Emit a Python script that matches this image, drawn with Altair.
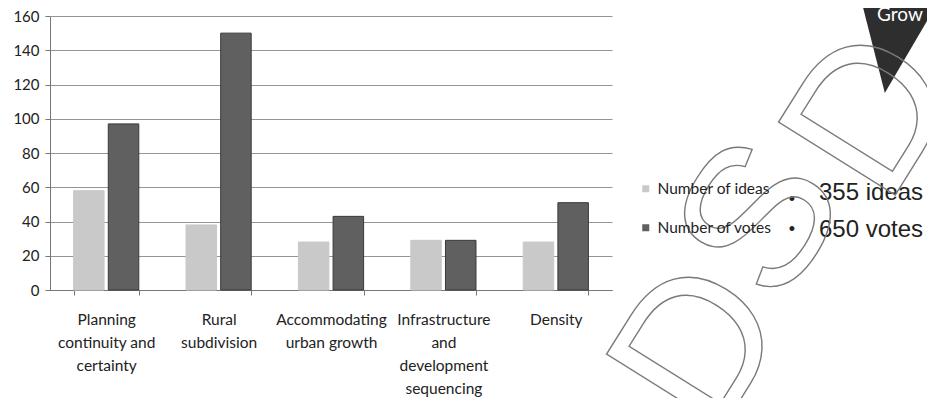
import altair as alt
import pandas as pd

categories = [
    "Planning\ncontinuity and\ncertainty",
    "Rural\nsubdivision",
    "Accommodating\nurban growth",
    "Infrastructure\nand\ndevelopment\nsequencing",
    "Density",
]
series_names = ["Number of ideas", "Number of votes"]
ideas = [58, 38, 28, 29, 28]
votes = [97, 150, 43, 29, 51]
y_ticks = [0, 20, 40, 60, 80, 100, 120, 140, 160]
notes = ["355 ideas", "650 votes"]
badge = ["Grow"]
watermark = ["D", "S", "D"]

rows = []
for c, i, v in zip(categories, ideas, votes):
    rows.append({"category": c, "series": series_names[0], "value": i})
    rows.append({"category": c, "series": series_names[1], "value": v})
df = pd.DataFrame(rows)

FONT = "Lato"

x = alt.X(
    "category:N",
    sort=categories,
    scale=alt.Scale(paddingInner=0.42, paddingOuter=0.21),
    axis=alt.Axis(
        title=None,
        labelAngle=0,
        labelExpr="split(datum.label, '\\n')",
        labelFont=FONT,
        labelFontSize=15.5,
        labelLineHeight=23,
        labelColor="#222",
        labelPadding=24,
        labelBaseline="middle",
        tickBand="extent",
        tickSize=5,
        tickColor="#777",
        domainColor="#777",
        grid=False,
    ),
)
y = alt.Y(
    "value:Q",
    scale=alt.Scale(domain=[0, 160], nice=False),
    axis=alt.Axis(
        title=None,
        values=y_ticks,
        labelFont=FONT,
        labelFontSize=15,
        labelColor="#222",
        labelPadding=6,
        tickSize=5,
        tickColor="#777",
        domainColor="#777",
        gridColor="#959595",
        gridWidth=1,
    ),
)

bars = alt.Chart(df).mark_bar(strokeWidth=1).encode(
    x=x,
    xOffset=alt.XOffset("series:N", sort=series_names, scale=alt.Scale(paddingInner=0.12)),
    y=y,
    color=alt.Color(
        "series:N",
        sort=series_names,
        scale=alt.Scale(domain=series_names, range=["#c9c9c9", "#606060"]),
        legend=alt.Legend(
            title=None,
            orient="none",
            legendX=588,
            legendY=165,
            symbolType="square",
            symbolSize=49,
            symbolStrokeWidth=0,
            rowPadding=22,
            labelFont=FONT,
            labelFontSize=15.5,
            labelColor="#222",
            labelOffset=4,
        ),
    ),
    stroke=alt.Stroke(
        "series:N",
        sort=series_names,
        scale=alt.Scale(domain=series_names, range=["#c9c9c9", "#3a3a3a"]),
        legend=None,
    ),
)

layers = [bars]
for txt, yy in zip(notes, [177, 214]):
    layers.append(
        alt.Chart(pd.DataFrame({"note": [txt]})).mark_text(
            font="Liberation Sans", fontSize=24, align="left", baseline="middle", color="#222"
        ).encode(text="note:N", x=alt.value(769), y=alt.value(yy))
    )
for yy in [184, 214]:
    layers.append(
        alt.Chart(pd.DataFrame({"note": ["•"]})).mark_text(
            font="Liberation Sans", fontSize=18, align="center", baseline="middle", color="#222"
        ).encode(text="note:N", x=alt.value(742), y=alt.value(yy))
    )

tri = alt.Chart(pd.DataFrame({"b": badge})).mark_point(
    shape="M -0.84 -1 L 0.84 -1 L -0.33 1 Z",
    filled=True,
    color="#2e2e2e",
    opacity=1,
    size=9604,
).encode(x=alt.value(851), y=alt.value(28))
tri_text = alt.Chart(pd.DataFrame({"b": badge})).mark_text(
    font=FONT, fontSize=19, color="white", align="left", baseline="middle"
).encode(text="b:N", x=alt.value(827), y=alt.value(-1))
layers += [tri, tri_text]

for letter, (xx, yy) in zip(watermark, [(652, 332), (714, 205), (824, 100)]):
    layers.append(
        alt.Chart(pd.DataFrame({"w": [letter]})).mark_text(
            font="Liberation Sans",
            fontSize=200,
            angle=302,
            align="center",
            baseline="middle",
            fillOpacity=0,
            stroke="#7a7a7a",
            strokeWidth=1.4,
        ).encode(text="w:N", x=alt.value(xx), y=alt.value(yy))
    )

chart = (
    alt.layer(*layers)
    .properties(
        width=562,
        height=274,
        padding={"left": 42, "top": 8, "right": 315, "bottom": 108},
        autosize=alt.AutoSizeParams(type="none"),
        background="white",
    )
    .configure_view(stroke=None)
)

chart.save("out.html", embed_options={"renderer": "svg", "actions": False})
